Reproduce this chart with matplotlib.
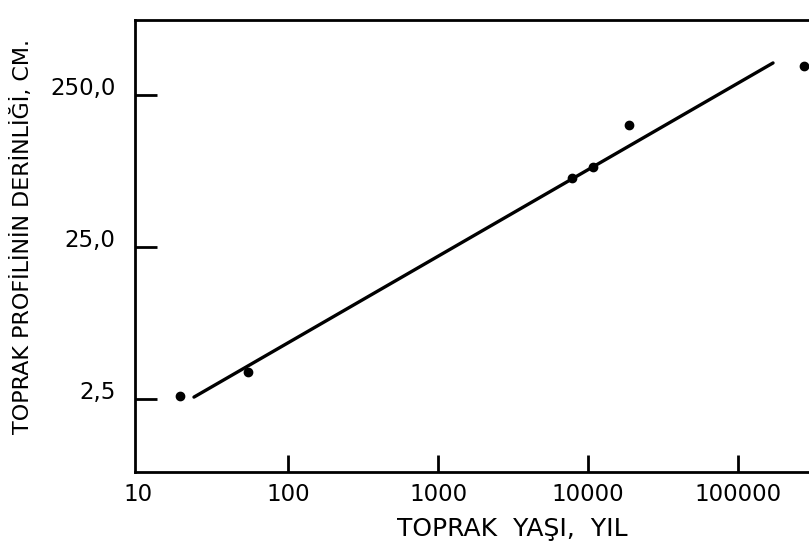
import matplotlib.pyplot as plt
import matplotlib.transforms as mtransforms
from matplotlib.ticker import FixedLocator, NullLocator

# ölçülen noktalar (toprak yaşı, yıl / profil derinliği, cm)
age_years = [19, 54, 7800, 10800, 18800, 275000]
depth_cm = [2.62, 3.76, 71, 84, 159, 388]

# elle çizilmiş eğilim doğrusu uç noktaları
fit_age = [23.6, 171000]
fit_depth = [2.58, 406]

x_ticks = [10, 100, 1000, 10000, 100000]
x_labels = ['10', '100', '1000', '10000', '100000']
y_ticks = [2.5, 25, 250]
y_labels = ['2,5', '25,0', '250,0']

fig = plt.figure(figsize=(8.09, 5.52), dpi=100)
ax = fig.add_axes([0.1669, 0.1449, 0.8331, 0.8189])

ax.plot(fit_age, fit_depth, color='black', linewidth=2.4, solid_capstyle='round')
ax.plot(age_years, depth_cm, 'o', color='black', markersize=6)

ax.set_xscale('log')
ax.set_yscale('log')
ax.set_xlim(9.55, 297000)
ax.set_ylim(0.83, 778)

ax.xaxis.set_major_locator(FixedLocator(x_ticks))
ax.set_xticklabels(x_labels)
ax.xaxis.set_minor_locator(NullLocator())
ax.yaxis.set_major_locator(FixedLocator(y_ticks))
ax.set_yticklabels(y_labels)
ax.yaxis.set_minor_locator(NullLocator())

ax.tick_params(axis='x', direction='in', length=12, width=2, pad=8, labelsize=16.5)
ax.tick_params(axis='y', direction='in', length=16, width=2, pad=14, labelsize=16.5)

# 10 çentiği köşeye denk geliyor, çizme
ax.xaxis.get_major_ticks()[0].tick1line.set_visible(False)

# y etiketleri çentiğin biraz üstünde duruyor
shift = mtransforms.ScaledTranslation(0, 9 / 100, fig.dpi_scale_trans)
for lbl in ax.get_yticklabels():
    lbl.set_transform(lbl.get_transform() + shift)

for side in ['left', 'bottom', 'top']:
    ax.spines[side].set_linewidth(2)
ax.spines['right'].set_visible(False)

ax.set_xlabel('TOPRAK  YAŞI,  YIL', fontsize=18)
ax.xaxis.set_label_coords(0.56, -0.100)
ax.set_ylabel('TOPRAK PROFİLİNİN DERİNLİĞİ, CM.', fontsize=16)
ax.yaxis.set_label_coords(-0.152, 0.52)

fig.savefig('out.png', dpi=100)
